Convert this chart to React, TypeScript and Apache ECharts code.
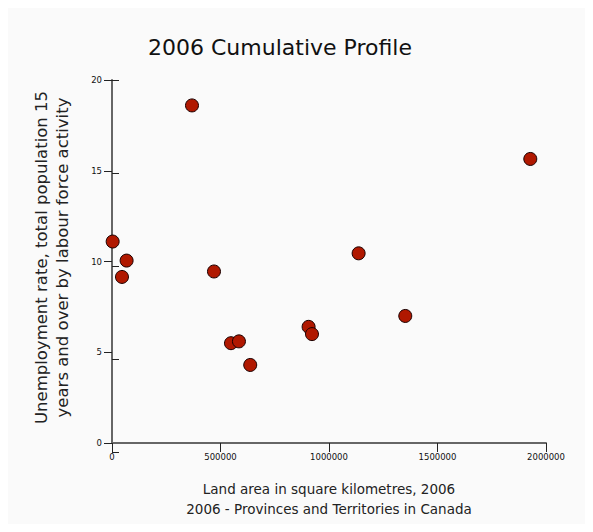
import React, { useEffect, useRef } from "react";
import * as echarts from "echarts";

const regions = ["PE", "NS", "NB", "NL", "YT", "MB", "SK", "AB", "ON", "BC", "NT", "QC", "NU"];
const landArea = [3000, 46000, 67300, 368600, 470000, 548300, 585000, 637000, 906000, 921600, 1136500, 1351500, 1927600];
const unemploymentRate = [11.1, 9.15, 10.05, 18.6, 9.45, 5.5, 5.6, 4.3, 6.4, 6.0, 10.45, 7.0, 15.65];

const titleText = "2006 Cumulative Profile";
const xTitle = "Land area in square kilometres, 2006\n2006 - Provinces and Territories in Canada";
const yTitle = "Unemployment rate, total population 15\nyears and over by labour force activity";

const FONT = "DejaVu Sans";

export default function App() {
  const ref = useRef<HTMLDivElement>(null);
  useEffect(() => {
    if (!ref.current) return;
    const chart = echarts.init(ref.current, undefined, { renderer: "svg" });
    const gridRect = { left: 104, right: 39, top: 72, bottom: 72 };
    const common = {
      type: "value" as const,
      splitLine: { show: false },
    };
    chart.setOption({
      animation: false,
      backgroundColor: "#fafafa",
      grid: [gridRect, { ...gridRect }],
      xAxis: [
        {
          ...common,
          gridIndex: 0,
          min: 0,
          max: 2000000,
          interval: 500000,
          axisLine: { show: true, lineStyle: { color: "#666666", width: 2 } },
          axisTick: { show: true, length: 6, lineStyle: { color: "#222222", width: 1 } },
          axisLabel: {
            fontFamily: FONT,
            fontSize: 8.5,
            color: "#111111",
            margin: 9,
            formatter: (v: number) => String(v),
          },
          name: xTitle,
          nameLocation: "middle",
          nameGap: 36,
          nameTextStyle: { fontFamily: FONT, fontSize: 13.5, color: "#222222", lineHeight: 20 },
        },
        {
          ...common,
          gridIndex: 1,
          min: 0,
          max: 2000000,
          interval: 500000,
          axisLine: { show: false },
          axisTick: { show: true, inside: true, length: 8, lineStyle: { color: "#222222", width: 1 } },
          axisLabel: { show: false },
        },
      ],
      yAxis: [
        {
          ...common,
          gridIndex: 0,
          min: 0,
          max: 20,
          interval: 5,
          axisLine: { show: true, lineStyle: { color: "#666666", width: 2 } },
          axisTick: { show: true, length: 8, lineStyle: { color: "#222222", width: 1 } },
          axisLabel: { fontFamily: FONT, fontSize: 8.5, color: "#111111", margin: 10 },
        },
        {
          ...common,
          gridIndex: 1,
          min: 0,
          max: 20,
          interval: 5,
          axisLine: { show: false },
          axisTick: { show: true, inside: true, length: 7, lineStyle: { color: "#222222", width: 1 } },
          axisLabel: { show: false },
        },
      ],
      graphic: [
        {
          type: "text",
          x: 272,
          y: 39,
          style: {
            text: titleText,
            fontFamily: FONT,
            fontSize: 22,
            fill: "#111111",
            textAlign: "center",
            textVerticalAlign: "middle",
          },
        },
        {
          type: "text",
          x: 44,
          y: 249.5,
          rotation: Math.PI / 2,
          style: {
            text: yTitle,
            fontFamily: FONT,
            fontSize: 16.5,
            lineHeight: 21,
            fill: "#222222",
            textAlign: "center",
            textVerticalAlign: "middle",
          },
        },
      ],
      series: [
        {
          type: "scatter",
          xAxisIndex: 0,
          yAxisIndex: 0,
          symbol: "circle",
          symbolSize: 13,
          itemStyle: { color: "#b01800", opacity: 1, borderColor: "#1a0000", borderWidth: 1 },
          data: landArea.map((x, i) => ({ name: regions[i], value: [x, unemploymentRate[i]] })),
        },
      ],
    });
    return () => chart.dispose();
  }, []);
  return <div ref={ref} style={{ width: 577, height: 516 }} />;
}
